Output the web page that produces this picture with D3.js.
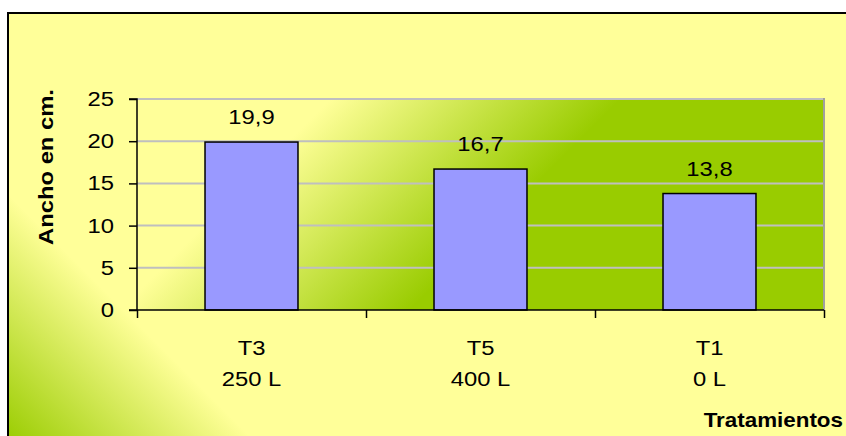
<!DOCTYPE html>
<html>
<head>
<meta charset="utf-8">
<script src="https://cdn.jsdelivr.net/npm/d3@7"></script>
<style>
  html, body { margin: 0; padding: 0; background: #ffffff; }
  svg { display: block; }
  text { font-family: Arial, "Liberation Sans", sans-serif; fill: #000; }
</style>
</head>
<body>
<svg id="chart" width="846" height="436"></svg>
<script>
// Treatments and their mean width (cm)
const tratamientos = ["T3", "T5", "T1"];
const dosis = ["250 L", "400 L", "0 L"];
const ancho = [19.9, 16.7, 13.8];
const yTicks = [0, 5, 10, 15, 20, 25];

const W = 846, H = 436;
const plot = { left: 137, right: 824, top: 99, bottom: 310 };
const SX = 1.19;           // horizontal stretch of the chart lettering
const FS = 20;             // base font size

const svg = d3.select("#chart");
const defs = svg.append("defs");

// Background fill of the chart area: green in the lower-left corner fading to yellow
const bgGrad = defs.append("linearGradient")
  .attr("id", "bgGrad").attr("gradientUnits", "userSpaceOnUse")
  .attr("x1", 0).attr("y1", 436).attr("x2", 125).attr("y2", 311);
bgGrad.append("stop").attr("offset", 0).attr("stop-color", "#99CC00");
bgGrad.append("stop").attr("offset", 1).attr("stop-color", "#FFFF99");

// Plot area fill: yellow in the upper-left fading to green
const plotGrad = defs.append("linearGradient")
  .attr("id", "plotGrad").attr("gradientUnits", "userSpaceOnUse")
  .attr("x1", 215).attr("y1", 215).attr("x2", 360).attr("y2", 360);
plotGrad.append("stop").attr("offset", 0).attr("stop-color", "#FFFF99");
plotGrad.append("stop").attr("offset", 1).attr("stop-color", "#99CC00");

// Chart frame
svg.append("rect")
  .attr("x", 8).attr("y", 13).attr("width", W).attr("height", H)
  .attr("fill", "url(#bgGrad)").attr("stroke", "#000").attr("stroke-width", 2);

// Scales
const x = d3.scaleBand().domain(tratamientos)
  .range([plot.left, plot.right]).paddingInner(0.594).paddingOuter(0.297);
const xEdge = d3.scaleLinear().domain([0, tratamientos.length]).range([plot.left, plot.right]);
const y = d3.scaleLinear().domain([0, 25]).range([plot.bottom, plot.top]);

// Plot area
svg.append("rect")
  .attr("x", plot.left).attr("y", plot.top)
  .attr("width", plot.right - plot.left).attr("height", plot.bottom - plot.top)
  .attr("fill", "url(#plotGrad)");

// Horizontal gridlines
svg.append("g").selectAll("line").data(yTicks.filter(d => d > 0)).join("line")
  .attr("x1", plot.left).attr("x2", plot.right)
  .attr("y1", d => y(d)).attr("y2", d => y(d))
  .attr("stroke", "#BFBFBF").attr("stroke-width", 2);

// Right edge of the plot area
svg.append("line")
  .attr("x1", plot.right).attr("x2", plot.right)
  .attr("y1", plot.top - 1).attr("y2", plot.bottom)
  .attr("stroke", "#A0A0A0").attr("stroke-width", 2);

// Bars
svg.append("g").selectAll("rect").data(tratamientos).join("rect")
  .attr("x", d => x(d))
  .attr("y", (d, i) => y(ancho[i]))
  .attr("width", x.bandwidth())
  .attr("height", (d, i) => y(0) - y(ancho[i]))
  .attr("fill", "#9999FF").attr("stroke", "#000").attr("stroke-width", 1.5);

// Helper for the widened lettering
function label(g, tx, ty, str, opts = {}) {
  const t = g.append("text")
    .attr("transform", `translate(${tx},${ty})${opts.rotate ? ` rotate(${opts.rotate})` : ""} scale(${opts.sx || SX},1)`)
    .attr("text-anchor", opts.anchor || "middle")
    .attr("font-size", opts.size || FS)
    .text(str);
  if (opts.bold) t.attr("font-weight", "bold");
  return t;
}

// Value labels above bars
const fmt = v => d3.format(".1f")(v).replace(".", ",");
const valG = svg.append("g");
tratamientos.forEach((d, i) => {
  label(valG, x(d) + x.bandwidth() / 2, y(ancho[i]) - 18, fmt(ancho[i]));
});

// Y axis
const yAxis = svg.append("g")
  .attr("transform", `translate(${plot.left},0)`)
  .call(d3.axisLeft(y).tickValues(yTicks).tickSize(8).tickPadding(0).tickFormat(""));
yAxis.select(".domain").attr("stroke", "#000").attr("stroke-width", 1.5).attr("d", `M-8,${plot.top}H0V${plot.bottom}`);
yAxis.selectAll(".tick line").attr("stroke", "#000").attr("stroke-width", 1.5);
const yLab = svg.append("g");
yTicks.forEach(v => label(yLab, 114, y(v) + 7, String(v), { anchor: "end" }));

// X axis with tick marks at category boundaries
const xAxis = svg.append("g")
  .attr("transform", `translate(0,${plot.bottom})`)
  .call(d3.axisBottom(xEdge).tickValues(d3.range(tratamientos.length + 1)).tickSize(8).tickFormat(""));
xAxis.select(".domain").attr("stroke", "#000").attr("stroke-width", 1.5).attr("d", `M${plot.left - 8},0H${plot.right}`);
xAxis.selectAll(".tick line").attr("stroke", "#000").attr("stroke-width", 1.5);

// Category labels (two lines)
const xLab = svg.append("g");
tratamientos.forEach((d, i) => {
  const cx = x(d) + x.bandwidth() / 2;
  label(xLab, cx, 355, d);
  label(xLab, cx, 386, dosis[i]);
});

// Axis titles
label(svg, 843, 427, "Tratamientos", { anchor: "end", bold: true, sx: 1.12 });
label(svg, 53, 167, "Ancho en cm.", { rotate: -90, bold: true });
</script>
</body>
</html>
